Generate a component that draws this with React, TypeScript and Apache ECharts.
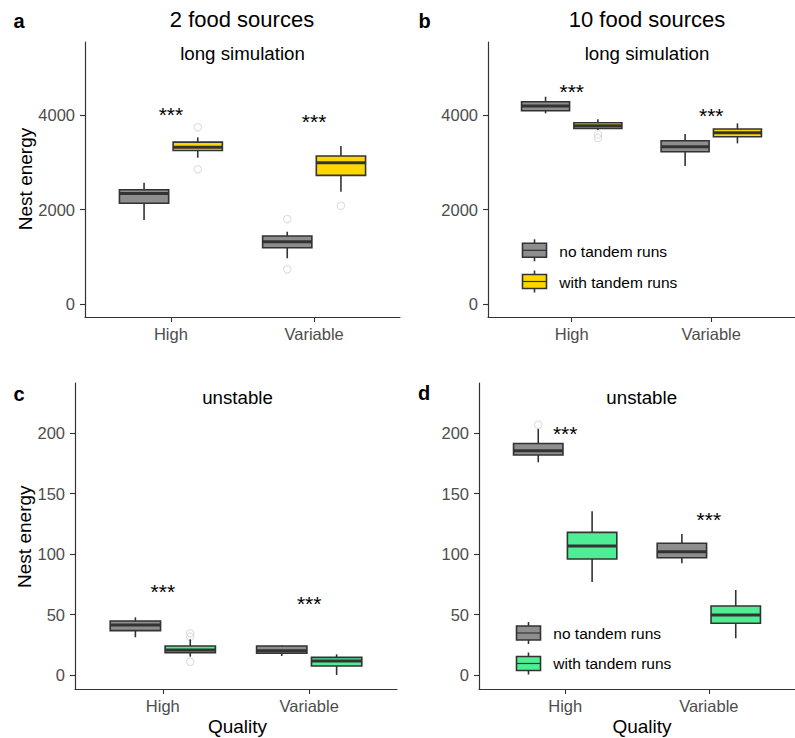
import React, { useEffect, useRef } from "react";
import * as echarts from "echarts";

// ---------- data ----------
const categories = ["High", "Variable"];
const groupNames = ["no tandem runs", "with tandem runs"];
const yTicksLong = [0, 2000, 4000];
const yTicksUnstable = [0, 50, 100, 150, 200];

// each row: [lower whisker, Q1, median, Q3, upper whisker], one row per category
const aNoTandem = [[1777, 2131, 2338, 2419, 2567], [967, 1191, 1318, 1439, 1530]];
const aTandem = [[3096, 3250, 3320, 3425, 3527], [2376, 2723, 2990, 3132, 3343]];
const aOutNo = [[1, 1798], [1, 734]];
const aOutTandem = [[0, 3739], [0, 2850], [1, 2080]];
const aStars = [4106, 3963];

const bNoTandem = [[4035, 4090, 4190, 4281, 4387], [2920, 3223, 3328, 3455, 3597]];
const bTandem = [[3682, 3718, 3773, 3836, 3908], [3400, 3540, 3625, 3703, 3823]];
const bOutNo: number[][] = [];
const bOutTandem = [[0, 3590], [0, 3515]];
const bStars = [4598, 4090];

const cNoTandem = [[31.2, 36.7, 41.4, 44.7, 47.7], [15.7, 18, 20.1, 24, 24.5]];
const cTandem = [[15.2, 18.5, 20.7, 24, 29.5], [0, 7.4, 11.6, 14.6, 17.1]];
const cOutNo: number[][] = [];
const cOutTandem = [[0, 34.5], [0, 31.7], [0, 11]];
const cStars = [73, 63];

const dNoTandem = [[176, 182, 185.5, 191.5, 203.6], [92.4, 97, 102, 109, 116.7]];
const dTandem = [[76.9, 96, 106.7, 118, 135.5], [30.4, 42.8, 49.6, 57.1, 70.3]];
const dOutNo = [[0, 207]];
const dOutTandem: number[][] = [];
const dStars = [204, 133.2];

// ---------- styles ----------
const FONT = "'Liberation Sans', Arial, Helvetica, sans-serif";
const GREY = "#8e8e8e";
const YELLOW = "#FFD700";
const GREEN = "#4EEE94";
const STROKE = "#333333";
const HALF = 0.172;
const DODGE = 0.1875;

const grids = [
  { left: 85, top: 42, width: 315, height: 275 },
  { left: 488, top: 42, width: 315, height: 275 },
  { left: 75, top: 383, width: 322, height: 306 },
  { left: 479, top: 383, width: 326, height: 306 },
];

const yRanges = [
  { min: -275, max: 5545, ticks: yTicksLong },
  { min: -275, max: 5545, ticks: yTicksLong },
  { min: -11.6, max: 241.6, ticks: yTicksUnstable },
  { min: -11.6, max: 241.6, ticks: yTicksUnstable },
];

const panels = [
  { no: aNoTandem, w: aTandem, outNo: aOutNo, outW: aOutTandem, stars: aStars, color: YELLOW },
  { no: bNoTandem, w: bTandem, outNo: bOutNo, outW: bOutTandem, stars: bStars, color: YELLOW },
  { no: cNoTandem, w: cTandem, outNo: cOutNo, outW: cOutTandem, stars: cStars, color: GREEN },
  { no: dNoTandem, w: dTandem, outNo: dOutNo, outW: dOutTandem, stars: dStars, color: GREEN },
];

const boxRender = (fill: string) => (params: any, api: any) => {
  const x = api.value(0);
  const lo = api.coord([x, api.value(1)]);
  const q1 = api.coord([x, api.value(2)]);
  const med = api.coord([x, api.value(3)]);
  const q3 = api.coord([x, api.value(4)]);
  const hi = api.coord([x, api.value(5)]);
  const l = api.coord([x - HALF, api.value(3)])[0];
  const r = api.coord([x + HALF, api.value(3)])[0];
  return {
    type: "group",
    children: [
      { type: "line", shape: { x1: lo[0], y1: lo[1], x2: hi[0], y2: hi[1] }, style: { stroke: STROKE, lineWidth: 1.6 } },
      { type: "rect", shape: { x: l, y: q3[1], width: r - l, height: q1[1] - q3[1] }, style: { fill, stroke: STROKE, lineWidth: 1.6 } },
      { type: "line", shape: { x1: l, y1: med[1], x2: r, y2: med[1] }, style: { stroke: STROKE, lineWidth: 3 } },
    ],
  };
};

const starRender = (params: any, api: any) => {
  const p = api.coord([api.value(0), api.value(1)]);
  return {
    type: "text",
    x: p[0],
    y: p[1] + 5,
    style: { text: "***", align: "center", verticalAlign: "middle", fontSize: 21, fontFamily: FONT, fill: "#000" },
  };
};

function legendKey(x: number, yTop: number, fill: string) {
  const w = 24, h = 14;
  return [
    { type: "line", shape: { x1: x + w / 2, y1: yTop - 4, x2: x + w / 2, y2: yTop + h + 4 }, style: { stroke: STROKE, lineWidth: 1.6 } },
    { type: "rect", shape: { x, y: yTop, width: w, height: h }, style: { fill, stroke: STROKE, lineWidth: 1.6 } },
    { type: "line", shape: { x1: x, y1: yTop + h / 2, x2: x + w, y2: yTop + h / 2 }, style: { stroke: STROKE, lineWidth: 1.2 } },
  ];
}

function txt(text: string, x: number, y: number, fontSize: number, extra: any = {}) {
  return {
    type: "text",
    x,
    y,
    rotation: extra.rotation || 0,
    style: {
      text,
      fontSize,
      fontFamily: FONT,
      fontWeight: extra.bold ? "bold" : "normal",
      fill: extra.fill || "#000",
      align: extra.align || "center",
      verticalAlign: "middle",
    },
  };
}

export default function App() {
  const ref = useRef<HTMLDivElement>(null);
  useEffect(() => {
    if (!ref.current) return;
    const chart = echarts.init(ref.current, null, { renderer: "svg" });

    const xAxis = grids.map((_, i) => ({
      type: "value",
      gridIndex: i,
      min: 0.4,
      max: 2.6,
      splitLine: { show: false },
      axisLine: { show: true, onZero: false, lineStyle: { color: STROKE, width: 1.2 } },
      axisTick: { show: true, customValues: [1, 2], length: 5, lineStyle: { color: STROKE, width: 1.1 } },
      axisLabel: {
        customValues: [1, 2],
        formatter: (v: number) => categories[Math.round(v) - 1],
        fontSize: 16.5,
        fontFamily: FONT,
        color: "#4d4d4d",
        margin: 8,
      },
    }));

    const yAxis = yRanges.map((r, i) => ({
      type: "value",
      gridIndex: i,
      min: r.min,
      max: r.max,
      splitLine: { show: false },
      axisLine: { show: true, onZero: false, lineStyle: { color: STROKE, width: 1.2 } },
      axisTick: { show: true, customValues: r.ticks, length: 5, lineStyle: { color: STROKE, width: 1.1 } },
      axisLabel: {
        customValues: r.ticks,
        formatter: (v: number) => String(v),
        fontSize: 16.5,
        fontFamily: FONT,
        color: "#4d4d4d",
        margin: 10,
      },
    }));

    const series: any[] = [];
    panels.forEach((p, i) => {
      const noRows = p.no.map((b, c) => [c + 1 - DODGE, ...b]);
      const wRows = p.w.map((b, c) => [c + 1 + DODGE, ...b]);
      series.push({
        type: "custom", name: groupNames[0], xAxisIndex: i, yAxisIndex: i, clip: false,
        renderItem: boxRender(GREY), data: noRows, encode: { x: 0, y: [1, 2, 3, 4, 5] },
      });
      series.push({
        type: "custom", name: groupNames[1], xAxisIndex: i, yAxisIndex: i, clip: false,
        renderItem: boxRender(p.color), data: wRows, encode: { x: 0, y: [1, 2, 3, 4, 5] },
      });
      const outliers = [
        ...p.outNo.map((o) => [o[0] + 1 - DODGE, o[1]]),
        ...p.outW.map((o) => [o[0] + 1 + DODGE, o[1]]),
      ];
      series.push({
        type: "scatter", xAxisIndex: i, yAxisIndex: i, symbol: "circle", symbolSize: 7.5,
        itemStyle: { color: "rgba(255,255,255,0)", borderColor: "#d6d6d6", borderWidth: 1.1 },
        data: outliers, z: 1,
      });
      series.push({
        type: "custom", xAxisIndex: i, yAxisIndex: i, clip: false, renderItem: starRender,
        data: p.stars.map((s, c) => [c + 1, s]), encode: { x: 0, y: 1 },
      });
    });

    const graphic: any[] = [
      txt("a", 19, 21, 20, { bold: true }),
      txt("b", 424.5, 21, 20, { bold: true }),
      txt("c", 19, 393.5, 20, { bold: true }),
      txt("d", 424, 392.5, 20, { bold: true }),
      txt("2 food sources", 242, 19.5, 22),
      txt("10 food sources", 647, 19.5, 22),
      txt("long simulation", 242.5, 53.5, 18.7),
      txt("long simulation", 647, 53.5, 18.7),
      txt("unstable", 237.5, 397, 18.7),
      txt("unstable", 641.7, 397, 18.7),
      txt("Nest energy", 25, 179, 19, { rotation: Math.PI / 2 }),
      txt("Nest energy", 24, 536.7, 19, { rotation: Math.PI / 2 }),
      txt("Quality", 237.5, 726.5, 19),
      txt("Quality", 642, 726.5, 19),
      ...legendKey(522.5, 243.3, GREY),
      ...legendKey(522.5, 274.5, YELLOW),
      txt(groupNames[0], 559.3, 251.5, 15.5, { align: "left" }),
      txt(groupNames[1], 559.3, 282.5, 15.5, { align: "left" }),
      ...legendKey(516.5, 626, GREY),
      ...legendKey(516.5, 656.5, GREEN),
      txt(groupNames[0], 553.3, 633, 15.5, { align: "left" }),
      txt(groupNames[1], 553.3, 663.5, 15.5, { align: "left" }),
    ];

    chart.setOption({
      animation: false,
      backgroundColor: "#ffffff",
      grid: grids.map((g) => ({ ...g, containLabel: false })),
      xAxis,
      yAxis,
      series,
      graphic,
    });
    return () => chart.dispose();
  }, []);
  return <div ref={ref} style={{ position: "absolute", left: 0, top: 0, width: 795, height: 738 }} />;
}
